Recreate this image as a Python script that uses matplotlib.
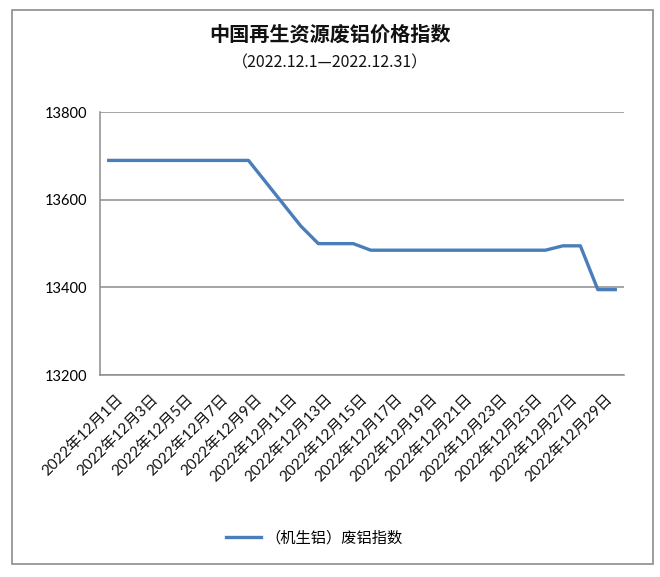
import matplotlib
matplotlib.use("Agg")
import matplotlib.pyplot as plt
from matplotlib.patches import Rectangle
from matplotlib.transforms import offset_copy

# 2022年12月 每日废铝价格指数（机生铝）
days = list(range(1, 31))
values = [13690, 13690, 13690, 13690, 13690, 13690, 13690, 13690, 13690,
          13640, 13590, 13540, 13500, 13500, 13500,
          13485, 13485, 13485, 13485, 13485, 13485, 13485, 13485, 13485,
          13485, 13485, 13495, 13495, 13395, 13395]
labels = [f"2022年12月{d}日" for d in days]
yticks = [13200, 13400, 13600, 13800]

title = "中国再生资源废铝价格指数"
subtitle = "（2022.12.1—2022.12.31）"
series_name = "（机生铝）废铝指数"

cjk = ["Noto Sans CJK SC", "DejaVu Sans"]
num = ["Lato", "Noto Sans CJK SC"]
line_color = "#4A7EBB"
grid_color = "#8C8C8C"

fig = plt.figure(figsize=(6.6, 5.77), dpi=100)
fig.patches.append(Rectangle((0.018, 0.0225), 0.971, 0.960, transform=fig.transFigure,
                             fill=False, edgecolor="#8C8C8C", linewidth=1.2))

ax = fig.add_axes([0.1515, 0.35, 0.794, 0.4555])
x = list(range(len(days)))
ax.plot(x, values, color=line_color, linewidth=2.4, solid_joinstyle="round",
        label=series_name, zorder=3)

ax.set_xlim(-0.5, len(days) - 0.5)
ax.set_ylim(13200, 13800)
ax.set_yticks(yticks)
ax.set_yticklabels([str(v) for v in yticks], family=num, fontsize=10.5)
ax.yaxis.grid(True, color=grid_color, linewidth=1.1)
ax.set_axisbelow(True)

# rotated date labels, shifted like the original (end of text right of the tick)
ax.set_xticks([])
lab_tr = offset_copy(ax.get_xaxis_transform(), fig=fig, x=12, y=-22, units="dots")
for xi, lab in list(zip(x, labels))[::2]:
    ax.text(xi, 0, lab, transform=lab_tr, rotation=45, ha="right", va="center",
            rotation_mode="anchor", family=num, fontsize=11, color="#111111")

ax.tick_params(axis="both", length=0)
ax.tick_params(axis="y", pad=9)
for s in ["top", "right"]:
    ax.spines[s].set_visible(False)
for s in ["left", "bottom"]:
    ax.spines[s].set_color(grid_color)
    ax.spines[s].set_linewidth(1.1)

fig.text(0.5, 0.941, title, ha="center", va="center", family=cjk,
         fontsize=14.5, fontweight="bold", color="#111111")
fig.text(0.5, 0.891, subtitle, ha="center", va="center", family=cjk,
         fontsize=11.5, color="#111111")

fig.legend(loc="center", bbox_to_anchor=(0.476, 0.068), frameon=False,
           prop={"family": cjk, "size": 11}, handlelength=2.3, handletextpad=0.3)

fig.savefig("out.png", dpi=100, facecolor="white")
